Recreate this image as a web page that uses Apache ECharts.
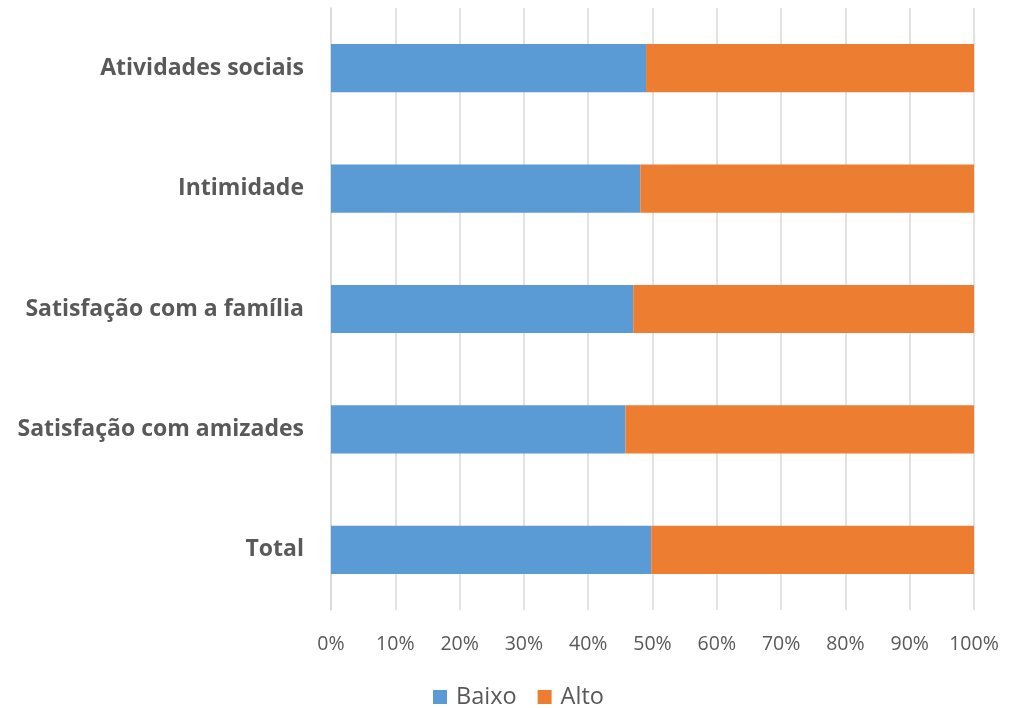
<!DOCTYPE html>
<html>
<head>
<meta charset="utf-8">
<script src="https://cdn.jsdelivr.net/npm/echarts@6/dist/echarts.min.js"></script>
<style>html,body{margin:0;padding:0;background:#fff;}#c{width:1020px;height:708px;}</style>
</head>
<body>
<div id="c"></div>
<script>
const categories = ['Atividades sociais', 'Intimidade', 'Satisfação com a família', 'Satisfação com amizades', 'Total'];
const baixo = [49.0, 48.1, 47.0, 45.8, 49.8];
const alto = [51.0, 51.9, 53.0, 54.2, 50.2];
const xTicks = [0, 10, 20, 30, 40, 50, 60, 70, 80, 90, 100];

const chart = echarts.init(document.getElementById('c'), null, {renderer: 'canvas'});
chart.setOption({
  backgroundColor: '#ffffff',
  animation: false,
  textStyle: {fontFamily: 'Open Sans'},
  grid: {left: 331, right: 46, top: 8, bottom: 98, containLabel: false},
  legend: {
    data: ['Baixo', 'Alto'],
    bottom: -6,
    left: 428,
    itemWidth: 14, itemHeight: 14, itemGap: 21,
    icon: 'rect',
    textStyle: {fontSize: 23.5, color: '#595959', fontFamily: 'Open Sans', padding: [0, 0, 0, 4]}
  },
  xAxis: {
    type: 'value', min: 0, max: 100, interval: 10,
    axisLine: {show: false}, axisTick: {show: false},
    splitLine: {show: true, lineStyle: {color: '#d9d9d9', width: 1.5}},
    axisLabel: {formatter: v => xTicks.includes(v) ? v + '%' : '', fontSize: 19.5, color: '#595959', margin: 24, fontFamily: 'Open Sans'}
  },
  yAxis: {
    type: 'category', data: categories, inverse: true,
    axisLine: {show: true, lineStyle: {color: '#d9d9d9', width: 1.5}},
    axisTick: {show: false},
    axisLabel: {fontSize: 23, fontWeight: 'bold', color: '#595959', margin: 27, fontFamily: 'Open Sans'}
  },
  series: [
    {name: 'Baixo', type: 'bar', stack: 's', data: baixo, barCategoryGap: '60%', itemStyle: {color: '#5B9BD5'}},
    {name: 'Alto', type: 'bar', stack: 's', data: alto, barCategoryGap: '60%', itemStyle: {color: '#ED7D31'}}
  ]
});
</script>
</body>
</html>
